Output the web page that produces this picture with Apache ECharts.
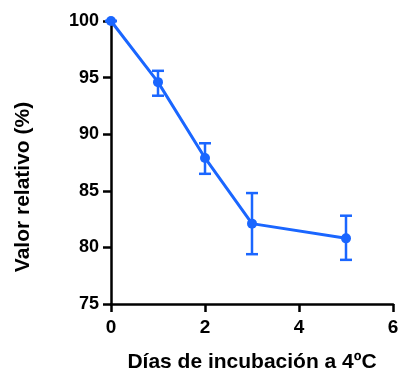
<!DOCTYPE html>
<html>
<head>
<meta charset="utf-8">
<script src="https://cdn.jsdelivr.net/npm/echarts@6/dist/echarts.min.js"></script>
<style>
  html, body { margin: 0; padding: 0; background: #fff; }
  #chart { width: 398px; height: 374px; }
</style>
</head>
<body>
<div id="chart"></div>
<script>
// datos
var dias = [0, 1, 2, 3, 5];
var valorRelativo = [100, 94.6, 87.9, 82.1, 80.8];
var errorAlto = [100, 95.6, 89.2, 84.8, 82.8];
var errorBajo = [100, 93.4, 86.5, 79.4, 78.9];
var yTicks = [75, 80, 85, 90, 95, 100];
var xTicks = [0, 2, 4, 6];

var azul = '#1a66ff';
var chart = echarts.init(document.getElementById('chart'));

var puntos = dias.map(function (d, i) { return [d, valorRelativo[i]]; });
var barras = dias.map(function (d, i) { return [d, errorBajo[i], errorAlto[i]]; });

var option = {
  animation: false,
  grid: { left: 111, top: 21, right: 5, bottom: 70, containLabel: false, outerBoundsMode: 'none' },
  xAxis: {
    type: 'value',
    min: xTicks[0],
    max: xTicks[xTicks.length - 1],
    interval: 2,
    name: 'Días de incubación a 4ºC',
    nameLocation: 'middle',
    nameGap: 48,
    nameTextStyle: { fontFamily: 'Liberation Sans', fontWeight: 'bold', fontSize: 21, color: '#000' },
    splitLine: { show: false },
    axisLine: { lineStyle: { color: '#000', width: 2.5 } },
    axisTick: { length: 8, lineStyle: { color: '#000', width: 2.5 } },
    axisLabel: { fontFamily: 'Liberation Sans', fontWeight: 'bold', fontSize: 19, color: '#000', margin: 14 }
  },
  yAxis: {
    type: 'value',
    min: yTicks[0],
    max: yTicks[yTicks.length - 1],
    interval: 5,
    splitLine: { show: false },
    axisLine: { show: true, lineStyle: { color: '#000', width: 2.5 } },
    axisTick: { show: true, inside: false, length: 8, lineStyle: { color: '#000', width: 2.5 } },
    axisLabel: { fontFamily: 'Liberation Sans', fontWeight: 'bold', fontSize: 18, color: '#000', margin: 12 }
  },
  graphic: [{
    type: 'text',
    x: 23,
    y: 187,
    rotation: Math.PI / 2,
    style: {
      text: 'Valor relativo (%)',
      fontFamily: 'Liberation Sans',
      fontWeight: 'bold',
      fontSize: 21,
      fill: '#000',
      align: 'center',
      verticalAlign: 'middle'
    }
  }],
  series: [
    {
      type: 'line',
      data: puntos,
      symbol: 'circle',
      symbolSize: 10,
      lineStyle: { color: azul, width: 3 },
      itemStyle: { color: azul },
      z: 3
    },
    {
      type: 'custom',
      data: barras,
      z: 4,
      renderItem: function (params, api) {
        var x = api.value(0);
        var top = api.coord([x, api.value(2)]);
        var bot = api.coord([x, api.value(1)]);
        var w = 6;
        var st = { stroke: azul, lineWidth: 2.5 };
        return {
          type: 'group',
          children: [
            { type: 'line', shape: { x1: top[0], y1: top[1], x2: bot[0], y2: bot[1] }, style: st },
            { type: 'line', shape: { x1: top[0] - w, y1: top[1], x2: top[0] + w, y2: top[1] }, style: st },
            { type: 'line', shape: { x1: bot[0] - w, y1: bot[1], x2: bot[0] + w, y2: bot[1] }, style: st }
          ]
        };
      }
    }
  ]
};
chart.setOption(option);
</script>
</body>
</html>
